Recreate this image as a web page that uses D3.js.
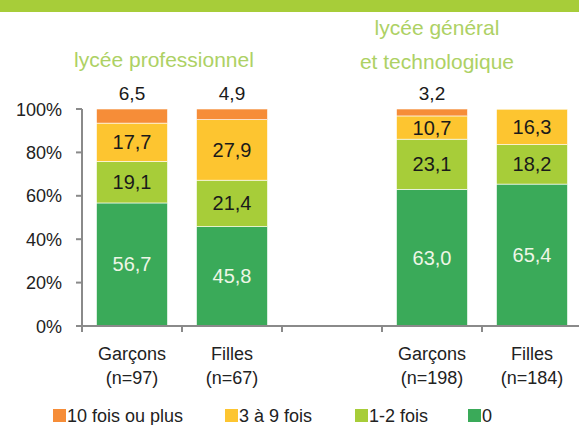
<!DOCTYPE html>
<html>
<head>
<meta charset="utf-8">
<script src="https://cdn.jsdelivr.net/npm/d3@7"></script>
<style>
  body { margin:0; background:#fff; }
  svg text { font-family: "Liberation Sans", Arial, sans-serif; }
</style>
</head>
<body>
<svg></svg>
<script>
// categories (empty slot = gap between the two groups)
var categories = ["Garçons|(n=97)", "Filles|(n=67)", "", "Garçons|(n=198)", "Filles|(n=184)"]
var seriesNames = ["10 fois ou plus", "3 à 9 fois", "1-2 fois", "0"]
var colors = ["#f68d38", "#fdc530", "#a7cd39", "#3aaa59"]
// values per series, bottom series is "0"
var val0    = [56.7, 45.8, 0, 63.0, 65.4]
var val12   = [19.1, 21.4, 0, 23.1, 18.2]
var val39   = [17.7, 27.9, 0, 10.7, 16.3]
var val10   = [6.5, 4.9, 0, 3.2, 0]
var yTicks  = [0, 20, 40, 60, 80, 100]
var groupTitles = [["lycée professionnel"], ["lycée général", "et technologique"]]

var W = 579, H = 425
var svg = d3.select("svg").attr("width", W).attr("height", H)

// green band on top
svg.append("rect").attr("x",0).attr("y",0).attr("width",W).attr("height",12).attr("fill","#a7cd39")

var x = d3.scaleBand().domain(d3.range(categories.length)).range([82, 582]).paddingInner(0.29).paddingOuter(0.145)
var y = d3.scaleLinear().domain([0,100]).range([326,109])

// stacking: from bottom to top
var layers = [
  {name: seriesNames[3], color: colors[3], vals: val0,  txt: "#eef6e6"},
  {name: seriesNames[2], color: colors[2], vals: val12, txt: "#1a1a1a"},
  {name: seriesNames[1], color: colors[1], vals: val39, txt: "#1a1a1a"},
  {name: seriesNames[0], color: colors[0], vals: val10, txt: "#1a1a1a", outside: true}
]
var base = categories.map(()=>0)
layers.forEach(function(l){
  l.segs = l.vals.map(function(v,i){ var s = {i:i, v:v, y0:base[i], y1:base[i]+v}; base[i]+=v; return s })
})

var fmt = v => d3.format(".1f")(v).replace(".", ",")

layers.forEach(function(l){
  var g = svg.append("g")
  g.selectAll("rect").data(l.segs.filter(d=>d.v>0)).enter().append("rect")
    .attr("x", d=>x(d.i))
    .attr("width", x.bandwidth())
    .attr("y", d=>y(Math.min(d.y1,100)))
    .attr("height", d=>y(d.y0)-y(Math.min(d.y1,100)))
    .attr("fill", l.color)
    .attr("stroke", "#fff").attr("stroke-width", 0.6)
  g.selectAll("text").data(l.segs.filter(d=>d.v>0)).enter().append("text")
    .attr("x", d=>x(d.i)+x.bandwidth()/2)
    .attr("y", d=> l.outside ? y(100)-9 : (y(d.y0)+y(Math.min(d.y1,100)))/2+7)
    .attr("text-anchor","middle")
    .style("font-size", l.outside ? "19px" : "20px")
    .attr("fill", l.txt)
    .text(d=>fmt(d.v))
})

// y axis
var axisColor = "#8a8a8a"
svg.append("line").attr("x1",82).attr("x2",82).attr("y1",y(100)).attr("y2",y(0)+6)
  .attr("stroke",axisColor).attr("stroke-width",2)
svg.selectAll("line.yt").data(yTicks).enter().append("line").attr("class","yt")
  .attr("x1",76).attr("x2",82).attr("y1",d=>y(d)).attr("y2",d=>y(d))
  .attr("stroke",axisColor).attr("stroke-width",2)
svg.selectAll("text.yl").data(yTicks).enter().append("text").attr("class","yl")
  .attr("x",62).attr("y",d=>y(d)+6.5).attr("text-anchor","end")
  .style("font-size","18px").attr("fill","#222")
  .text(d=>d+"%")

// x axis
svg.append("line").attr("x1",82).attr("x2",W).attr("y1",y(0)).attr("y2",y(0))
  .attr("stroke",axisColor).attr("stroke-width",2)
var step = x.step()
svg.selectAll("line.xt").data(d3.range(categories.length)).enter().append("line").attr("class","xt")
  .attr("x1",d=>x(d)-x.paddingOuter()*step).attr("x2",d=>x(d)-x.paddingOuter()*step)
  .attr("y1",y(0)).attr("y2",y(0)+6)
  .attr("stroke",axisColor).attr("stroke-width",2)
categories.forEach(function(c,i){
  if(!c) return
  c.split("|").forEach(function(line,k){
    svg.append("text").attr("x", x(i)+x.bandwidth()/2).attr("y", 360+k*24)
      .attr("text-anchor","middle").style("font-size","18px").attr("fill","#222").text(line)
  })
})

// group titles
var titleX = [164, 437]
var titleY = [[67], [35, 69]]
groupTitles.forEach(function(t,gi){
  t.forEach(function(line,k){
    svg.append("text").attr("x", titleX[gi]).attr("y", titleY[gi][k])
      .attr("text-anchor","middle").style("font-size","21px").attr("fill","#add164").text(line)
  })
})

// legend
var legX = [53, 225, 355, 468]
var leg = svg.selectAll("g.leg").data(seriesNames).enter().append("g").attr("class","leg")
  .attr("transform",(d,i)=>"translate("+legX[i]+",0)")
leg.append("rect").attr("x",0).attr("y",409).attr("width",13).attr("height",13).attr("fill",(d,i)=>colors[i])
leg.append("text").attr("x",14).attr("y",422).style("font-size","18px").attr("fill","#222").text(d=>d)
</script>
</body>
</html>
